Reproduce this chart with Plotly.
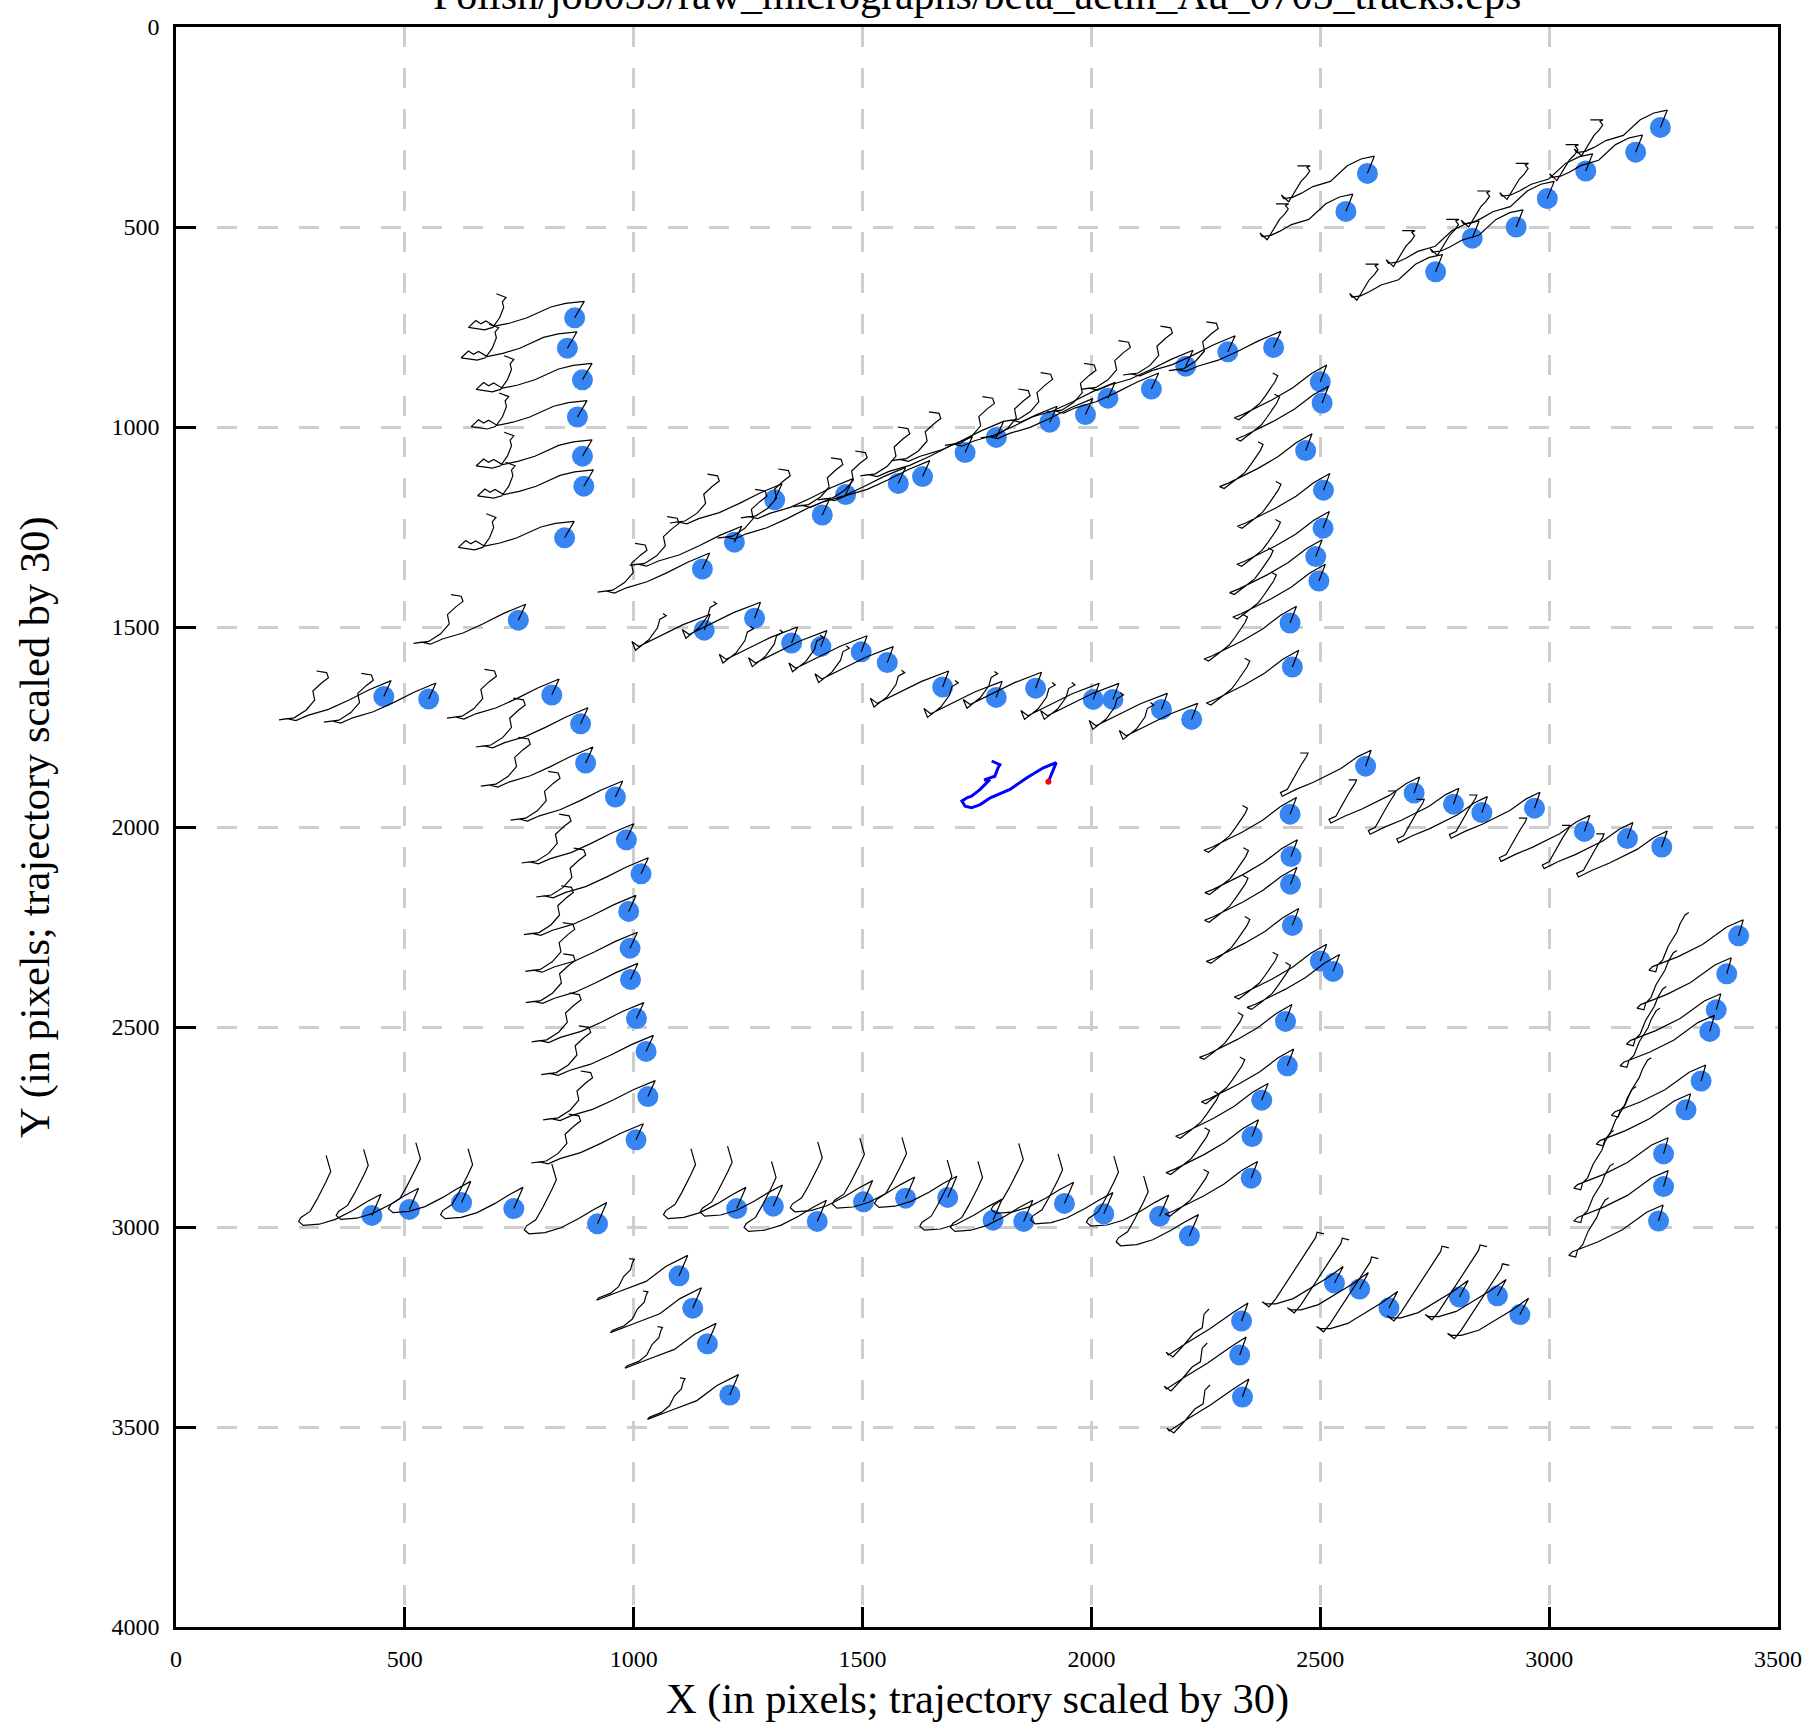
import plotly.graph_objects as go

TITLE = "Polish/job039/raw_micrographs/beta_actin_Au_0705_tracks.eps"
X_TITLE = "X (in pixels; trajectory scaled by 30)"
Y_TITLE = "Y (in pixels; trajectory scaled by 30)"
X_TICKS = [0, 500, 1000, 1500, 2000, 2500, 3000, 3500]
Y_TICKS = [0, 500, 1000, 1500, 2000, 2500, 3000, 3500, 4000]

# ---- particle positions (pixels) and the track shape each one follows ----
A_X = [871, 855, 888, 877, 888, 891, 849]
A_Y = [727, 803, 882, 975, 1073, 1148, 1277]

B_X = [1150, 1220, 1308, 1412, 1463, 1578, 1631, 1724, 1792, 1909, 1987, 2036, 2131, 2206, 2298, 2398,
       748, 454, 552, 821, 884, 895, 960, 984, 1016, 989, 992, 993, 1006, 1027, 1031, 1005]
B_Y = [1355, 1288, 1182, 1220, 1169, 1141, 1124, 1064, 1026, 988, 969, 928, 905, 848, 812, 801,
       1483, 1674, 1680, 1670, 1742, 1840, 1925, 2032, 2117, 2211, 2303, 2381, 2479, 2561, 2674, 2782]

C_X = [1154, 1264, 1345, 1409, 1497, 1554, 1675, 1792, 1878, 2004, 2047, 2153, 2219]
C_Y = [1508, 1478, 1540, 1549, 1562, 1589, 1650, 1676, 1653, 1681, 1681, 1706, 1731]

D_X = [2603, 2556, 2752, 2832, 2928, 2996, 3080, 3189, 3243]
D_Y = [366, 461, 612, 528, 500, 429, 360, 313, 251]

E_X = [2500, 2504, 2468, 2507, 2506, 2490, 2497, 2434, 2439, 2434, 2436, 2435, 2439, 2500, 2528,
       2424, 2428, 2372, 2351, 2349]
E_Y = [887, 940, 1059, 1158, 1253, 1324, 1385, 1490, 1600, 1968, 2074, 2143, 2246, 2335, 2361,
       2486, 2597, 2683, 2774, 2878]

I_X = [2599, 2705, 2791, 2853, 2968, 3077, 3171, 3246]
I_Y = [1848, 1915, 1943, 1964, 1953, 2011, 2029, 2050]

H_X = [3414, 3388, 3365, 3351, 3332, 3299, 3250, 3250, 3239]
H_Y = [2272, 2367, 2457, 2511, 2635, 2707, 2817, 2899, 2985]

G_X = [428, 510, 624, 738, 921, 1225, 1305, 1401, 1502, 1594, 1686, 1785, 1852, 1941, 2027, 2149, 2214]
G_Y = [2971, 2956, 2939, 2954, 2992, 2954, 2948, 2986, 2937, 2928, 2926, 2983, 2986, 2941, 2967, 2973, 3022]

J_X = [1099, 1129, 1161, 1210]
J_Y = [3122, 3203, 3292, 3420]

F_X = [2531, 2586, 2650, 2804, 2887, 2936]
F_Y = [3140, 3155, 3202, 3175, 3172, 3219]

K_X = [2328, 2324, 2330]
K_Y = [3235, 3320, 3425]

# ---- track shapes (offsets, already scaled by 30) ----
TRACK_A_DX = [0, 21, -20, -52, -104, -141, -175, -194, -205, -216, -232, -197, -179, -164, -155, -158, -150, -171]
TRACK_A_DY = [0, -41, -36, -27, 0, 13, 21, 8, 15, 7, 24, 30, 24, 0, -26, -40, -51, -60]
TRACK_B_DX = [0, 16, -32, -77, -121, -166, -192, -211, -229, -196, -170, -151, -155, -136, -121, -125, -147]
TRACK_B_DY = [0, -40, -17, 9, 32, 47, 60, 55, 58, 53, 34, 9, -14, -34, -47, -60, -64]
TRACK_C_DX = [0, 13, -46, -98, -143, -158, -150, -121, -102, -97, -83, -90]
TRACK_C_DY = [0, -40, -14, 15, 41, 28, 50, 24, -6, -27, -36, -42]
TRACK_D_DX = [0, 15, -14, -44, -81, -119, -145, -164, -183, -188, -172, -153, -145, -134, -126, -132, -125, -153]
TRACK_D_DY = [0, -43, -36, -19, 20, 33, 50, 60, 63, 54, 71, 33, 20, 7, -6, -15, -19, -19]
TRACK_E_DX = [0, 14, -20, -60, -105, -145, -170, -188, -178, -155, -133, -120, -107, -99, -93, -104]
TRACK_E_DY = [0, -42, -20, 15, 45, 68, 82, 90, 95, 75, 55, 35, 15, 0, -15, -22]
TRACK_F_DX = [0, 19, -15, -53, -90, -128, -150, -158, -143, -128, -109, -95, -79, -60, -41, -38, -23]
TRACK_F_DY = [0, -41, -13, 13, 39, 52, 52, 47, 60, 39, 6, -20, -46, -80, -114, -127, -123]
TRACK_G_DX = [0, 20, -11, -41, -80, -115, -150, -160, -155, -135, -120, -108, -100, -90, -95, -100]
TRACK_G_DY = [0, -53, -34, -13, 10, 22, 25, 15, 5, -10, -40, -65, -85, -110, -130, -150]
TRACK_H_DX = [0, 10, -26, -79, -132, -169, -188, -196, -181, -177, -166, -154, -135, -128, -117, -109]
TRACK_H_DY = [0, -40, -22, 22, 52, 69, 77, 86, 90, 73, 60, 26, -9, -30, -52, -58]
TRACK_I_DX = [0, 12, -17, -54, -114, -152, -182, -186, -171, -152, -141, -129, -126, -143]
TRACK_I_DY = [0, -40, -24, 6, 40, 58, 75, 66, 58, 19, -3, -24, -33, -33]
TRACK_J_DX = [0, 19, -28, -72, -132, -180, -175, -150, -132, -121, -106, -102, -98, -109]
TRACK_J_DY = [0, -51, -24, 14, 40, 61, 55, 44, 27, 2, -15, -32, -41, -43]
TRACK_K_DX = [0, 14, -20, -70, -120, -160, -165, -150, -126, -104, -86, -82, -71]
TRACK_K_DY = [0, -45, -20, 20, 55, 85, 78, 90, 60, 30, 17, -17, -30]

# average (global) track, drawn in blue, starting at the red point
AVG_X0, AVG_Y0 = 1906, 1887
AVG_DX = [0, 17, -11, -47, -84, -127, -149, -168, -182, -189, -178, -168, -149, -131, -140, -117, -110, -106, -124]
AVG_DY = [0, -48, -35, -10, 19, 40, 57, 65, 61, 48, 40, 36, 19, -2, -5, -14, -35, -43, -52]

GROUPS = [
    (A_X, A_Y, TRACK_A_DX, TRACK_A_DY),
    (B_X, B_Y, TRACK_B_DX, TRACK_B_DY),
    (C_X, C_Y, TRACK_C_DX, TRACK_C_DY),
    (D_X, D_Y, TRACK_D_DX, TRACK_D_DY),
    (E_X, E_Y, TRACK_E_DX, TRACK_E_DY),
    (I_X, I_Y, TRACK_I_DX, TRACK_I_DY),
    (H_X, H_Y, TRACK_H_DX, TRACK_H_DY),
    (G_X, G_Y, TRACK_G_DX, TRACK_G_DY),
    (J_X, J_Y, TRACK_J_DX, TRACK_J_DY),
    (F_X, F_Y, TRACK_F_DX, TRACK_F_DY),
    (K_X, K_Y, TRACK_K_DX, TRACK_K_DY),
]

dot_x, dot_y, trk_x, trk_y = [], [], [], []
for gx, gy, dxs, dys in GROUPS:
    for px, py in zip(gx, gy):
        dot_x.append(px)
        dot_y.append(py)
        trk_x += [px + d for d in dxs] + [None]
        trk_y += [py + d for d in dys] + [None]

avg_x = [AVG_X0 + d for d in AVG_DX]
avg_y = [AVG_Y0 + d for d in AVG_DY]

FONT = "Liberation Serif, Times New Roman, serif"

fig = go.Figure()
fig.add_trace(go.Scatter(x=dot_x, y=dot_y, mode="markers",
                         marker=dict(size=21, color="#3784F3", line=dict(width=0)),
                         hoverinfo="skip", showlegend=False))
fig.add_trace(go.Scatter(x=trk_x, y=trk_y, mode="lines",
                         line=dict(color="black", width=1.2),
                         connectgaps=False, hoverinfo="skip", showlegend=False))
fig.add_trace(go.Scatter(x=avg_x, y=avg_y, mode="lines",
                         line=dict(color="#0000FF", width=3),
                         hoverinfo="skip", showlegend=False))
fig.add_trace(go.Scatter(x=[AVG_X0], y=[AVG_Y0], mode="markers",
                         marker=dict(size=6, color="#FF0000"),
                         hoverinfo="skip", showlegend=False))

axis_common = dict(
    showline=True, linecolor="black", linewidth=2.5, mirror=True,
    ticks="inside", ticklen=20, tickwidth=2.5, tickcolor="black",
    showgrid=True, gridcolor="#cdcdcd", gridwidth=3, griddash="20px,21px",
    zeroline=False, tickfont=dict(family=FONT, size=24, color="black"),
)

fig.update_xaxes(range=[0, 3500], tickvals=X_TICKS, ticktext=[str(v) for v in X_TICKS],
                 ticklabelstandoff=8, **axis_common)
fig.update_yaxes(range=[4000, 0], tickvals=Y_TICKS, ticktext=[str(v) for v in Y_TICKS],
                 ticklabelstandoff=9, **axis_common)

fig.update_layout(
    width=1815, height=1727,
    margin=dict(l=176, r=37, t=27, b=100),
    paper_bgcolor="white", plot_bgcolor="white",
    font=dict(family=FONT, color="black"),
    annotations=[
        dict(text=TITLE, xref="paper", yref="paper", x=0.5, y=1, yanchor="middle",
             yshift=32, showarrow=False, font=dict(family=FONT, size=42, color="black")),
        dict(text=X_TITLE, xref="paper", yref="paper", x=0.5, y=0, yanchor="middle",
             yshift=-72, showarrow=False, font=dict(family=FONT, size=42.5, color="black")),
        dict(text=Y_TITLE, xref="paper", yref="paper", x=0, y=0.5, xanchor="center",
             xshift=-141, textangle=-90, showarrow=False,
             font=dict(family=FONT, size=42.5, color="black")),
    ],
)

fig.write_html("out.html", config={"displayModeBar": False},
               post_script="document.body.style.margin='0';")
